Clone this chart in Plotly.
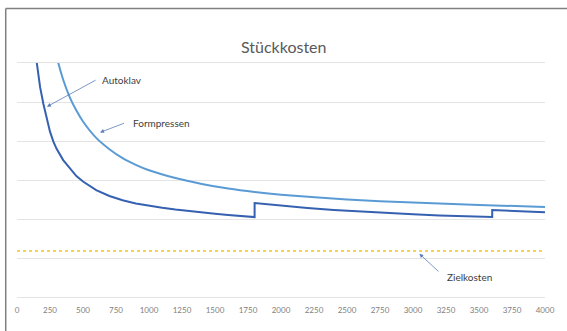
import plotly.graph_objects as go

# Data (y units arbitrary, axis hidden)
autoklav_x = [100, 120, 140, 150, 160, 175, 200, 225, 250, 275, 300, 350, 400, 450, 500, 550,
              600, 700, 800, 900, 1000, 1100, 1200, 1300, 1400, 1500, 1600, 1700, 1800,
              1800, 2000, 2200, 2400, 2600, 2800, 3000, 3200, 3400, 3600,
              3600, 3800, 4000]
autoklav_y = [82.0, 71.0, 63.3, 60.0, 57.3, 53.8, 49.5, 45.6, 42.4, 39.9, 38.0, 35.1, 32.9, 31.0,
              29.6, 28.4, 27.4, 25.9, 24.8, 24.0, 23.4, 22.9, 22.45, 22.05, 21.7, 21.35, 21.05,
              20.75, 20.5,
              24.1, 23.4, 22.8, 22.3, 21.9, 21.5, 21.2, 20.9, 20.7, 20.5,
              22.3, 22.0, 21.7]

formpressen_x = [200, 225, 250, 275, 300, 350, 400, 450, 500, 600, 700, 800, 900, 1000, 1200,
                 1400, 1600, 1800, 2000, 2500, 3000, 3500, 4000]
formpressen_y = [82.5, 75.5, 70.0, 65.5, 61.7, 55.7, 51.2, 47.8, 45.0, 40.8, 37.9, 35.6, 33.9,
                 32.5, 30.5, 29.0, 27.8, 26.9, 26.2, 25.0, 24.2, 23.6, 23.1]

ziel_x = [0, 4000]
ziel_y = [11.8, 11.8]

x_ticks = list(range(0, 4001, 250))
y_grid = [0, 10, 20, 30, 40, 50, 60]

FONT = "Lato"
GRID = "#E4E4E4"

fig = go.Figure()
fig.add_trace(go.Scatter(x=autoklav_x, y=autoklav_y, mode="lines", name="Autoklav",
                         line=dict(color="#3561B0", width=2)))
fig.add_trace(go.Scatter(x=formpressen_x, y=formpressen_y, mode="lines", name="Formpressen",
                         line=dict(color="#5B9BD5", width=2, shape="spline", smoothing=0.6)))
fig.add_trace(go.Scatter(x=ziel_x, y=ziel_y, mode="lines", name="Zielkosten",
                         line=dict(color="#F5C518", width=1.3, dash="dot")))

W, H = 567, 331
ml, mr, mt, mb = 17, 12, 63, 34
pw, ph = W - ml - mr, H - mt - mb

def px_to_paper_x(px):
    return (px - ml) / pw

def px_to_paper_y(py):
    return 1 - (py - mt) / ph

shapes = [
    # chart-area border (left and top visible)
    dict(type="line", xref="paper", yref="paper",
         x0=px_to_paper_x(5.5), y0=px_to_paper_y(8.5), x1=px_to_paper_x(5.5), y1=px_to_paper_y(340),
         line=dict(color="#808080", width=1.5)),
    dict(type="line", xref="paper", yref="paper",
         x0=px_to_paper_x(5.5), y0=px_to_paper_y(8.5), x1=px_to_paper_x(580), y1=px_to_paper_y(8.5),
         line=dict(color="#808080", width=1.5)),
]

arrow_color = "#5B7DB8"
annotations = [
    dict(text="Stückkosten", xref="paper", yref="paper", x=px_to_paper_x(289), y=px_to_paper_y(46),
         showarrow=False, font=dict(family=FONT, size=16, color="#595959"),
         xanchor="center", yanchor="middle"),
    # Autoklav
    dict(x=227, y=48.8, ax=607, ay=55.8, axref="x", ayref="y", xref="x", yref="y", text="",
         showarrow=True, arrowhead=2, arrowsize=1, arrowwidth=0.8, arrowcolor=arrow_color),
    dict(text="Autoklav", x=630, y=55.6, xref="x", yref="y", showarrow=False,
         xanchor="left", yanchor="middle", font=dict(family=FONT, size=10, color="#404040")),
    # Formpressen
    dict(x=629, y=42.2, ax=822, ay=44.7, axref="x", ayref="y", xref="x", yref="y", text="",
         showarrow=True, arrowhead=2, arrowsize=1, arrowwidth=0.8, arrowcolor=arrow_color),
    dict(text="Formpressen", x=860, y=44.7, xref="x", yref="y", showarrow=False,
         xanchor="left", yanchor="middle", font=dict(family=FONT, size=10, color="#404040")),
    # Zielkosten
    dict(x=3048, y=11.1, ax=3204, ay=6.2, axref="x", ayref="y", xref="x", yref="y", text="",
         showarrow=True, arrowhead=2, arrowsize=1, arrowwidth=0.8, arrowcolor=arrow_color),
    dict(text="Zielkosten", x=3241, y=5.1, xref="x", yref="y", showarrow=False,
         xanchor="left", yanchor="middle", font=dict(family=FONT, size=10, color="#404040")),
]

fig.update_layout(
    width=W, height=H,
    margin=dict(l=ml, r=mr, t=mt, b=mb),
    paper_bgcolor="white", plot_bgcolor="white",
    showlegend=False,
    shapes=shapes,
    annotations=annotations,
    xaxis=dict(range=[0, 4000], tickvals=x_ticks, ticktext=[str(v) for v in x_ticks],
               showgrid=False, zeroline=False, ticks="",
               showline=True, mirror=True, linecolor=GRID, linewidth=1,
               ticklabelstandoff=5,
               tickfont=dict(family=FONT, size=8, color="#808080")),
    yaxis=dict(range=[0, 60], tickvals=y_grid,
               showgrid=True, gridcolor=GRID, gridwidth=1,
               zeroline=False, showticklabels=False, ticks="", showline=False),
)

fig.write_html("out.html")
